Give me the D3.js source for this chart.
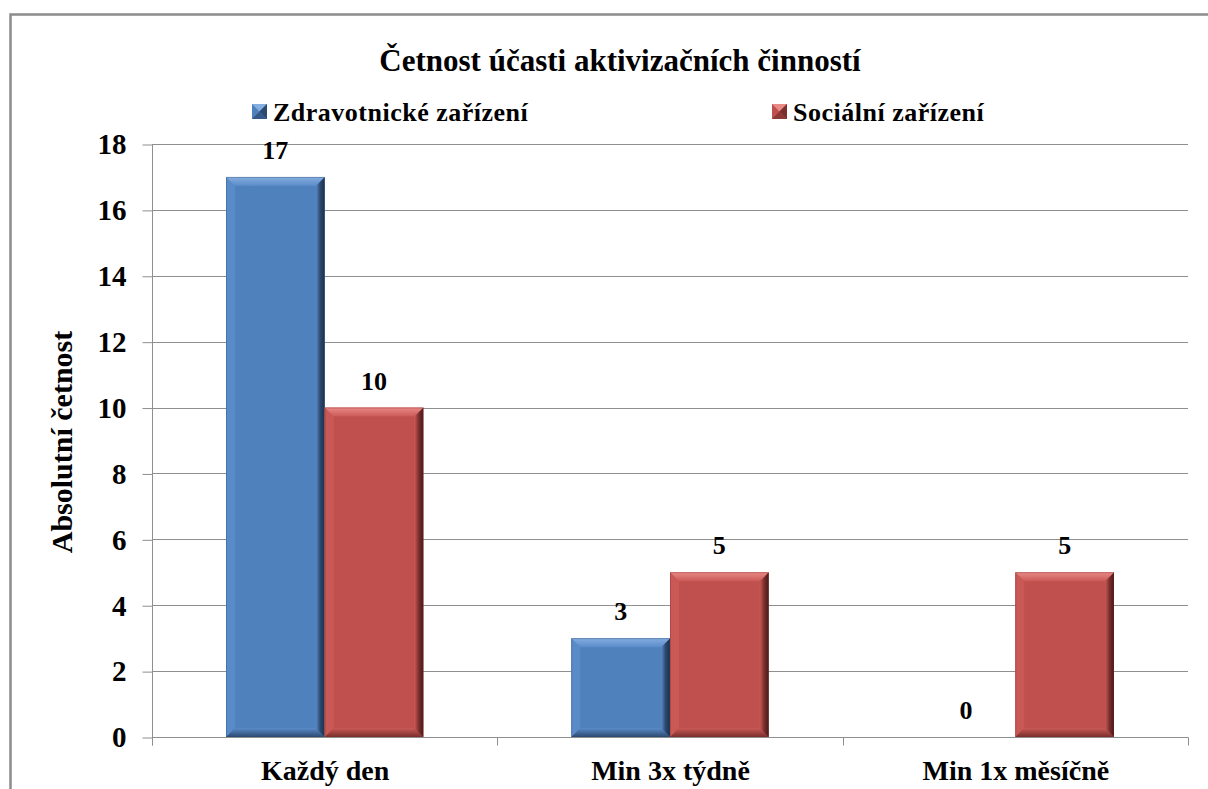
<!DOCTYPE html>
<html>
<head>
<meta charset="utf-8">
<script src="https://cdn.jsdelivr.net/npm/d3@7"></script>
</head>
<body style="margin:0;padding:0;background:#fff">
<script>
// Frequency of participation in activation activities
const categories = ["Každý den", "Min 3x týdně", "Min 1x měsíčně"];
const seriesNames = ["Zdravotnické zařízení", "Sociální zařízení"];
const zdravotnicke = [17, 3, 0];
const socialni = [10, 5, 5];
const yTicks = [0, 2, 4, 6, 8, 10, 12, 14, 16, 18];
const titleText = "Četnost účasti aktivizačních činností";
const yTitle = "Absolutní četnost";

const W = 1208, H = 789;
const plot = { left: 152, right: 1188, top: 144, bottom: 737 };
const serif = '"Liberation Serif"';

const palette = [
  { base: "#4F81BD", light: "#86AEE0", mid: "#5A8BC9", dark: "#2C4A70", darker: "#1B2F48" },
  { base: "#C0504D", light: "#EA8A87", mid: "#CA5956", dark: "#7A2F2D", darker: "#461817" }
];

const svg = d3.select("body").append("svg").attr("width", W).attr("height", H)
  .style("display", "block");
const defs = svg.append("defs");

// Shared text styling
function label(sel, size) {
  return sel.style("font-family", serif).style("font-weight", "bold")
    .style("font-size", size + "px").style("fill", "#000");
}

palette.forEach((p, i) => {
  const gr = defs.append("linearGradient").attr("id", "rightEdge" + i)
    .attr("x1", 0).attr("x2", 1).attr("y1", 0).attr("y2", 0);
  gr.append("stop").attr("offset", 0).attr("stop-color", p.mid);
  gr.append("stop").attr("offset", 0.5).attr("stop-color", p.dark);
  gr.append("stop").attr("offset", 1).attr("stop-color", p.darker);
  const gb = defs.append("linearGradient").attr("id", "bottomEdge" + i)
    .attr("x1", 0).attr("x2", 0).attr("y1", 0).attr("y2", 1);
  gb.append("stop").attr("offset", 0).attr("stop-color", p.mid);
  gb.append("stop").attr("offset", 1).attr("stop-color", p.dark);
  const gt = defs.append("linearGradient").attr("id", "topEdge" + i)
    .attr("x1", 0).attr("x2", 0).attr("y1", 0).attr("y2", 1);
  gt.append("stop").attr("offset", 0).attr("stop-color", p.light);
  gt.append("stop").attr("offset", 1).attr("stop-color", p.mid);
});

// Outer chart frame
svg.append("rect")
  .attr("x", 10.5).attr("y", 14.5).attr("width", W + 20).attr("height", H + 20)
  .attr("fill", "none").attr("stroke", "#8C8C8C").attr("stroke-width", 2.5);

const y = d3.scaleLinear().domain([0, 18]).range([plot.bottom, plot.top]);
const x0 = d3.scaleBand().domain(categories).range([plot.left, plot.right]).paddingInner(0).paddingOuter(0);
const x1 = d3.scaleBand().domain(seriesNames).range([0, x0.bandwidth()]).paddingInner(0).paddingOuter(0.75);

// Horizontal gridlines
svg.append("g").selectAll("line").data(yTicks.filter(t => t > 0)).join("line")
  .attr("x1", plot.left).attr("x2", plot.right)
  .attr("y1", d => Math.round(y(d)) + 0.5).attr("y2", d => Math.round(y(d)) + 0.5)
  .attr("stroke", "#8F8F8F").attr("stroke-width", 1);

// Y axis
const yAxis = d3.axisLeft(y).tickValues(yTicks).tickSize(10).tickPadding(16);
const gy = svg.append("g").attr("transform", `translate(${plot.left + 0.5},0.5)`).call(yAxis)
  .attr("font-family", null).attr("font-size", null);
gy.select(".domain").attr("stroke", "#8F8F8F").attr("d", `M0,${plot.top}V${plot.bottom + 8}`);
gy.selectAll(".tick line").attr("stroke", "#8F8F8F");
label(gy.selectAll(".tick text"), 29);

// X axis baseline with category separators
const gx = svg.append("g").attr("transform", `translate(0.5,${Math.round(plot.bottom) + 0.5})`);
gx.append("line").attr("x1", plot.left).attr("x2", plot.right).attr("stroke", "#8F8F8F");
const seps = categories.map(c => x0(c)).concat([plot.right]);
gx.selectAll("line.sep").data(seps).join("line").attr("class", "sep")
  .attr("x1", d => Math.round(d)).attr("x2", d => Math.round(d)).attr("y1", 0).attr("y2", 8)
  .attr("stroke", "#8F8F8F");
label(gx.selectAll("text").data(categories).join("text")
  .attr("x", d => x0(d) + x0.bandwidth() / 2).attr("y", 42)
  .attr("text-anchor", "middle").text(d => d), 28);

// Bars with bevelled edges
const rows = categories.map((c, i) => ({ cat: c, vals: [zdravotnicke[i], socialni[i]] }));
function bevelBar(g, bx, by, bw, bh, si) {
  const b = Math.min(9, bh / 2);
  const p = palette[si];
  g.append("rect").attr("x", bx).attr("y", by).attr("width", bw).attr("height", bh).attr("fill", p.base);
  const poly = (pts, fill) => g.append("polygon").attr("points", pts.map(q => q.join(",")).join(" ")).attr("fill", fill);
  poly([[bx, by], [bx + b, by + b], [bx + b, by + bh - b], [bx, by + bh]], p.mid);
  poly([[bx, by + bh], [bx + bw, by + bh], [bx + bw - b, by + bh - b], [bx + b, by + bh - b]], `url(#bottomEdge${si})`);
  poly([[bx + bw, by], [bx + bw, by + bh], [bx + bw - b, by + bh - b], [bx + bw - b, by + b]], `url(#rightEdge${si})`);
  poly([[bx, by], [bx + bw, by], [bx + bw - b, by + b], [bx + b, by + b]], `url(#topEdge${si})`);
  g.append("rect").attr("x", bx + 0.5).attr("y", by + 0.5).attr("width", bw - 1).attr("height", bh - 1)
    .attr("fill", "none").attr("stroke", p.dark).attr("stroke-opacity", 0.35);
}

const barsG = svg.append("g");
rows.forEach(r => {
  r.vals.forEach((v, si) => {
    const bx = x0(r.cat) + x1(seriesNames[si]);
    const bw = x1.bandwidth();
    const top = y(v);
    const bh = y(0) - top;
    if (bh > 0) bevelBar(barsG.append("g"), bx, top, bw, bh, si);
    label(barsG.append("text")
      .attr("x", bx + bw / 2).attr("y", top - 18)
      .attr("text-anchor", "middle").text(v), 26);
  });
});

// Title
label(svg.append("text").attr("x", 620).attr("y", 71).attr("text-anchor", "middle")
  .text(titleText), 31);

// Legend
const legendX = [252, 772];
const lg = svg.append("g");
seriesNames.forEach((s, i) => {
  const p = palette[i];
  const g = lg.append("g").attr("transform", `translate(${legendX[i]},104)`);
  g.append("rect").attr("width", 15).attr("height", 15).attr("fill", p.base);
  g.append("polygon").attr("points", "0,0 15,0 7.5,7.5").attr("fill", p.light);
  g.append("polygon").attr("points", "15,0 15,15 7.5,7.5").attr("fill", p.dark);
  g.append("polygon").attr("points", "0,15 15,15 7.5,7.5").attr("fill", p.dark).attr("opacity", 0.7);
  label(g.append("text").attr("x", 21).attr("y", 17).attr("letter-spacing", 0.5).text(s), 26);
});

// Y axis title
label(svg.append("text")
  .attr("transform", `translate(72,442) rotate(-90)`)
  .attr("text-anchor", "middle").text(yTitle), 30);
</script>
</body>
</html>
